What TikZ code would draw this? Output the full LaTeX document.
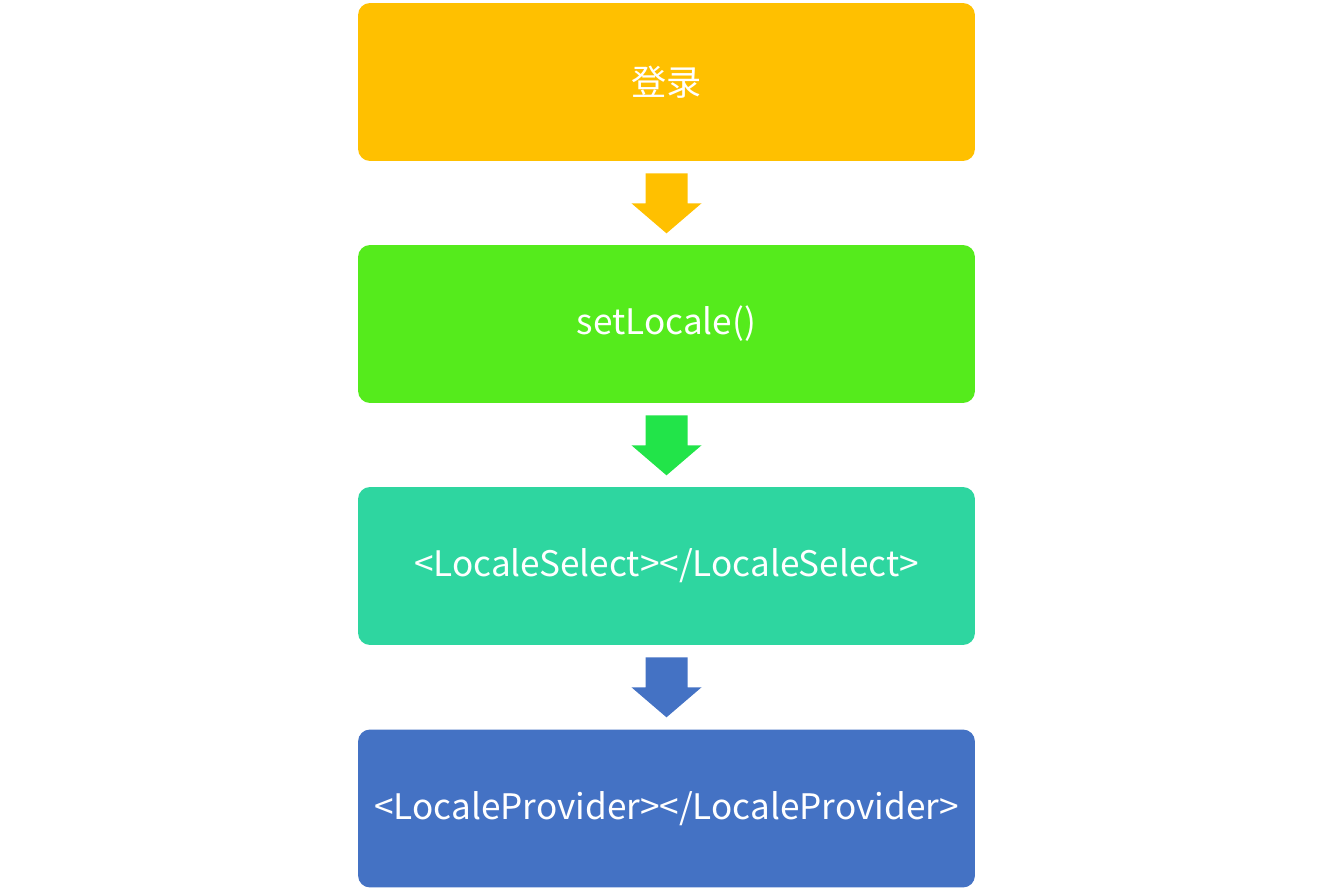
\documentclass[tikz,border=0pt]{standalone}
\usepackage{fontspec}
\setmainfont{Noto Sans CJK SC}
\usetikzlibrary{calc}

\definecolor{boxyellow}{HTML}{FFC000}
\definecolor{boxgreen}{HTML}{55EB1C}
\definecolor{arrowgreen}{HTML}{22E449}
\definecolor{boxteal}{HTML}{2ED6A0}
\definecolor{boxblue}{HTML}{4472C4}

% block arrow below a box
\newcommand{\flowarrow}[2]{%
  \fill[#2] ($(#1.south)+(-21,12)$) -- ($(#1.south)+(21,12)$) -- ($(#1.south)+(21,42)$)
    -- ($(#1.south)+(35,42)$) -- ($(#1.south)+(0,72)$) -- ($(#1.south)+(-35,42)$)
    -- ($(#1.south)+(-21,42)$) -- cycle;}

\begin{document}
\begin{tikzpicture}[x=0.02cm,y=-0.02cm,
  stage/.style={rectangle,rounded corners=12*0.02cm,minimum width=12.34cm,minimum height=3.16cm,
    inner sep=0pt,text=white,font=\fontsize{20}{22}\selectfont}]
	\useasboundingbox (0,0) rectangle (1334,891);
	\node [stage,fill=boxyellow] (login) at (666.5,82) {登录};
	\node [stage,fill=boxgreen] (setlocale) at (666.5,324) {setLocale()};
	\node [stage,fill=boxteal] (select) at (666.5,566) {<LocaleSelect></LocaleSelect>};
	\node [stage,fill=boxblue] (provider) at (666.5,808.5) {<LocaleProvider></LocaleProvider>};

	\flowarrow{login}{boxyellow}
	\flowarrow{setlocale}{arrowgreen}
	\flowarrow{select}{boxblue}
\end{tikzpicture}
\end{document}
